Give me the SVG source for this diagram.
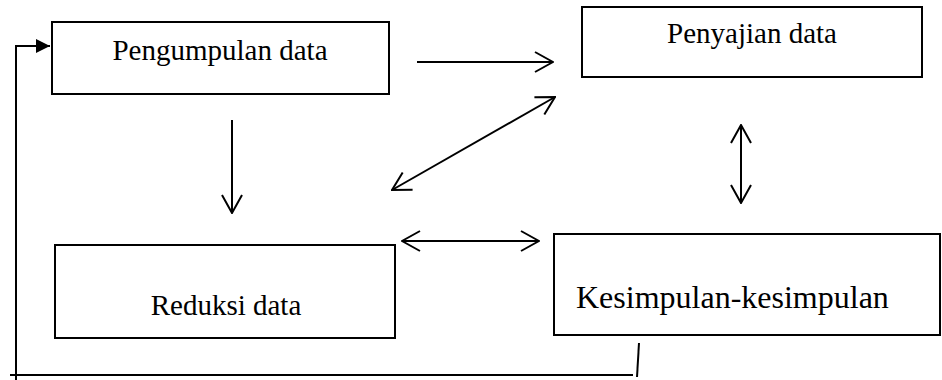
<svg xmlns="http://www.w3.org/2000/svg" width="942" height="380" viewBox="0 0 942 380">
  <style>
    .box { fill: #fff; stroke: #000; stroke-width: 2; }
    .lbl { font-family: "Liberation Serif", "Times New Roman", serif; fill: #000; }
    .ln { stroke: #000; stroke-width: 2; fill: none; }
  </style>
  <defs>
    <marker id="open" viewBox="0 0 20 22" refX="19" refY="11" markerWidth="20" markerHeight="22" markerUnits="userSpaceOnUse" orient="auto-start-reverse">
      <path d="M1,1 L19,11 L1,21" fill="none" stroke="#000" stroke-width="2"/>
    </marker>
    <marker id="solid" viewBox="0 0 14 14" refX="14" refY="7" markerWidth="14" markerHeight="14" markerUnits="userSpaceOnUse" orient="auto">
      <path d="M0,0 L14,7 L0,14 Z" fill="#000"/>
    </marker>
  </defs>
  <rect width="942" height="380" fill="#fff"/>
  <g id="node-pengumpulan">
    <rect class="box" x="52" y="22" width="337" height="72"/>
    <text class="lbl" x="220" y="60" font-size="29" text-anchor="middle">Pengumpulan data</text>
  </g>
  <g id="node-penyajian">
    <rect class="box" x="582" y="7" width="340" height="70"/>
    <text class="lbl" x="752" y="43" font-size="29" text-anchor="middle">Penyajian data</text>
  </g>
  <g id="node-reduksi">
    <rect class="box" x="55" y="245" width="340" height="93"/>
    <text class="lbl" x="226" y="315" font-size="29" text-anchor="middle">Reduksi data</text>
  </g>
  <g id="node-kesimpulan">
    <rect class="box" x="554" y="234" width="386" height="101"/>
    <text class="lbl" x="576" y="308" font-size="32">Kesimpulan-kesimpulan</text>
  </g>
  <g id="connectors">
    <line class="ln" x1="417" y1="62" x2="553" y2="62" marker-end="url(#open)"/>
    <line class="ln" x1="232" y1="120" x2="232" y2="213" marker-end="url(#open)"/>
    <line class="ln" x1="392" y1="190" x2="555" y2="97" marker-start="url(#open)" marker-end="url(#open)"/>
    <line class="ln" x1="402" y1="241" x2="539" y2="241" marker-start="url(#open)" marker-end="url(#open)"/>
    <line class="ln" x1="741" y1="125" x2="741" y2="203" marker-start="url(#open)" marker-end="url(#open)"/>
    <polyline class="ln" points="633,375 10,375"/>
    <polyline class="ln" points="16,380 16,46 50,46" marker-end="url(#solid)"/>
    <line class="ln" x1="639" y1="343" x2="637" y2="377"/>
  </g>
</svg>
